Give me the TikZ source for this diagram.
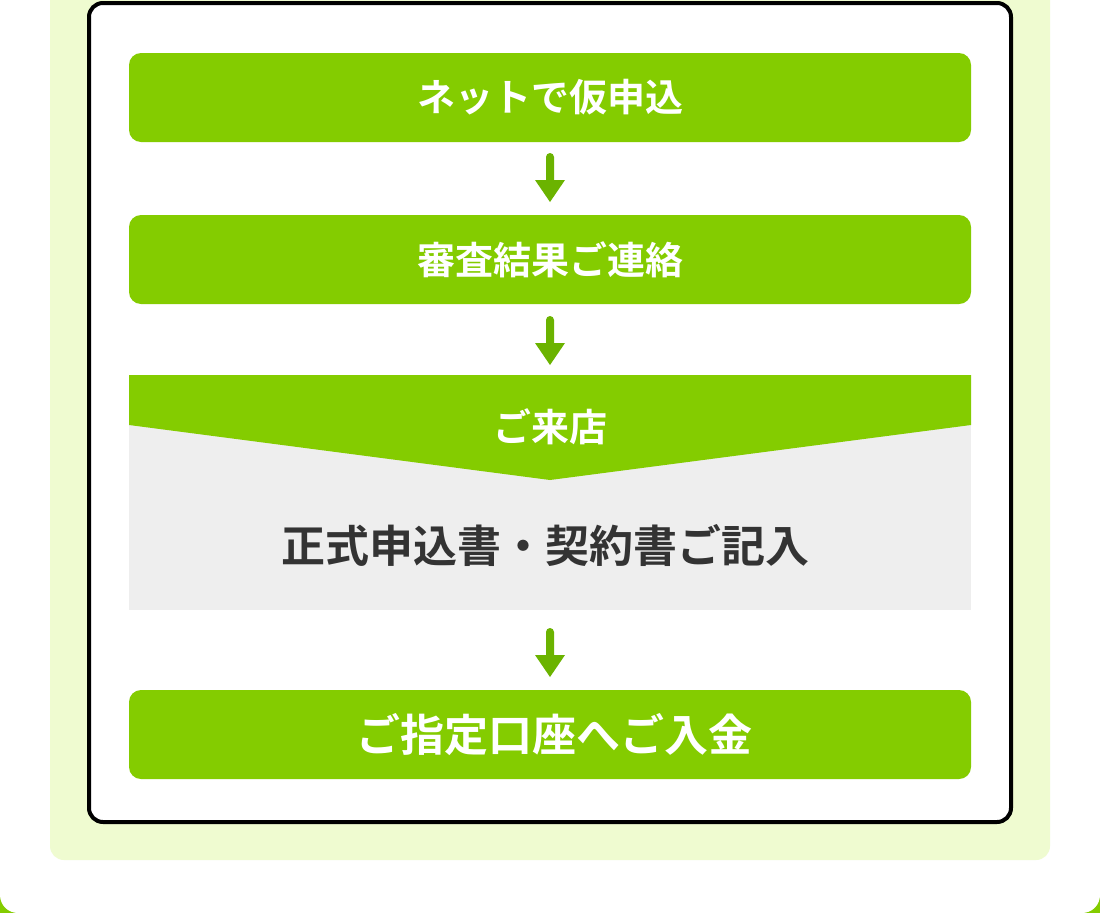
\documentclass[tikz,border=0pt]{standalone}
\usepackage{fontspec}
\newfontfamily\jp{Noto Sans CJK JP Bold}
\definecolor{gr}{HTML}{84CC00}
\definecolor{dg}{HTML}{6BB300}
\definecolor{pale}{HTML}{EFFBD0}
\definecolor{gy}{HTML}{EEEEEE}
\definecolor{tx}{HTML}{333333}
\begin{document}
\begin{tikzpicture}[x=1pt,y=-1pt,
 stepbox/.style={fill=gr,rounded corners=12pt},
 wt/.style={text=white,font=\jp\fontsize{38}{40}\selectfont},
 arr/.style={}]
\useasboundingbox (0,0) rectangle (1100,913);
\fill[gr] (0,0) rectangle (1100,913);
\fill[white,rounded corners=18pt] (0,-40) rectangle (1100,913);
\fill[pale,rounded corners=14pt] (50,-40) rectangle (1050,860);
\draw[line width=4pt,fill=white,rounded corners=14pt] (89,3) rectangle (1011,822);
\fill[stepbox] (129,53) rectangle (971,142);
\node[wt] (a) at (550,97) {ネットで仮申込};
\fill[stepbox] (129,215) rectangle (971,304);
\node[wt] (b) at (550,260) {審査結果ご連絡};
\fill[gy] (129,375) rectangle (971,610);
\fill[gr] (129,375) -- (971,375) -- (971,425) -- (550,480) -- (129,425) -- cycle;
\node[wt] (c) at (550,427) {ご来店};
\node[text=tx,font=\jp\fontsize{44}{46}\selectfont] (d) at (545,545) {正式申込書・契約書ご記入};
\fill[stepbox] (129,690) rectangle (971,779);
\node[wt,font=\jp\fontsize{44}{46}\selectfont] (e) at (554,735) {ご指定口座へご入金};
\foreach \y in {153,316,628}{
 \fill[dg,rounded corners=4pt] (546,\y) rectangle (554,\y+32);
 \fill[dg] (535,\y+27) -- (565,\y+27) -- (550,\y+49) -- cycle;
}
\end{tikzpicture}
\end{document}
